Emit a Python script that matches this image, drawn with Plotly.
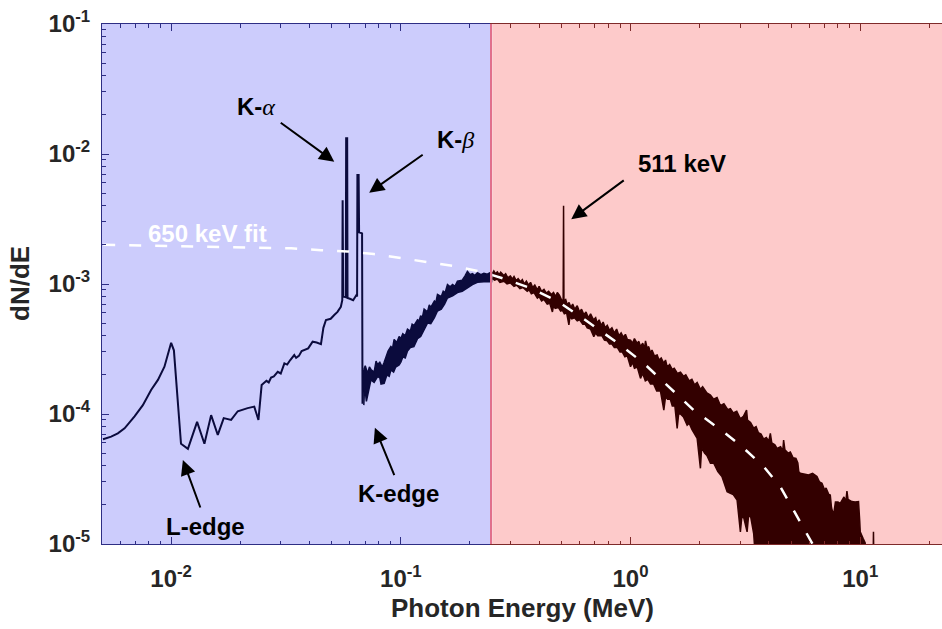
import math
import plotly.graph_objects as go

# ---------------- data ----------------
# Low-energy part of the spectrum (thin line), energies in MeV
E_low = [0.00505, 0.00548, 0.00586, 0.00627, 0.00693, 0.00753, 0.00818, 0.00876, 0.00935,
         0.00984, 0.0100, 0.01028, 0.0107, 0.01104, 0.01183, 0.01297, 0.01396, 0.01493,
         0.01596, 0.01694, 0.01824, 0.0195, 0.02153, 0.02301, 0.02399, 0.02477, 0.0260,
         0.0266, 0.02723, 0.0280, 0.02911, 0.0300, 0.03112, 0.0320, 0.0330, 0.03436,
         0.0350, 0.0360, 0.0370, 0.03802, 0.0395, 0.0413, 0.0430, 0.0449, 0.0460,
         0.0472, 0.0495, 0.0513, 0.0530, 0.0548, 0.0556,
         0.0558, 0.0561, 0.0576, 0.0578, 0.0584, 0.0586, 0.0600, 0.0620, 0.0640,
         0.0645, 0.0647, 0.0655, 0.0658, 0.0678, 0.0681, 0.0690]
dNdE_low = [6.4e-5, 6.7e-5, 7.1e-5, 7.76e-5, 9.6e-5, 1.17e-4, 1.53e-4, 1.83e-4, 2.31e-4,
            3.1e-4, 3.53e-4, 3.09e-4, 1.29e-4, 5.9e-5, 5.4e-5, 8.7e-5, 5.9e-5, 9.8e-5,
            6.9e-5, 9.3e-5, 9.0e-5, 1.05e-4, 1.11e-4, 1.14e-4, 9.0e-5, 1.67e-4, 1.80e-4,
            1.75e-4, 1.91e-4, 1.95e-4, 2.11e-4, 2.05e-4, 2.45e-4, 2.40e-4, 2.60e-4, 2.84e-4,
            2.70e-4, 2.80e-4, 3.05e-4, 3.10e-4, 3.20e-4, 3.60e-4, 3.55e-4, 3.45e-4, 4.6e-4,
            5.28e-4, 5.40e-4, 5.78e-4, 6.10e-4, 6.68e-4, 7.5e-4,
            4.4e-3, 8.0e-4, 7.9e-4, 1.32e-2, 1.32e-2, 7.8e-4, 7.7e-4, 7.5e-4, 8.2e-4,
            8.0e-4, 6.9e-3, 6.9e-3, 2.5e-3, 2.45e-3, 1.2e-4, 2.2e-4]

# Noisy part below 0.25 MeV: upper / lower envelope of the trace
E_blue_up = [0.0690, 0.0700, 0.0716, 0.0730, 0.0741, 0.0765, 0.0780, 0.0792, 0.0810, 0.0830,
             0.0846, 0.0865, 0.0880, 0.0905, 0.0920, 0.0935, 0.0960, 0.0983, 0.1000, 0.1020,
             0.1045, 0.1069, 0.1100, 0.1120, 0.1142, 0.1182, 0.1200, 0.1220, 0.1240, 0.1263,
             0.1306, 0.1330, 0.1350, 0.1400, 0.1420, 0.1444, 0.1500, 0.1530, 0.1560, 0.1596,
             0.1640, 0.1680, 0.1720, 0.1764, 0.1850, 0.1900, 0.1950, 0.2000, 0.2050, 0.2100,
             0.2155, 0.2230, 0.2300, 0.2380, 0.2462, 0.2504]
dNdE_blue_up = [2.2e-4, 2.35e-4, 2.05e-4, 2.3e-4, 2.2e-4, 2.1e-4, 2.55e-4, 2.4e-4, 2.5e-4, 2.3e-4,
                2.5e-4, 2.8e-4, 3.05e-4, 3.3e-4, 3.2e-4, 3.75e-4, 3.55e-4, 3.95e-4, 3.8e-4, 4.15e-4,
                4.0e-4, 4.5e-4, 4.35e-4, 4.9e-4, 4.8e-4, 5.3e-4, 5.2e-4, 5.7e-4, 5.5e-4, 6.4e-4,
                6.1e-4, 6.9e-4, 6.6e-4, 7.4e-4, 7.2e-4, 8.3e-4, 8.0e-4, 8.8e-4, 8.6e-4, 9.9e-4,
                9.5e-4, 9.9e-4, 9.6e-4, 1.05e-3, 1.07e-3, 1.15e-3, 1.25e-3, 1.18e-3, 1.20e-3, 1.16e-3,
                1.22e-3, 1.18e-3, 1.21e-3, 1.19e-3, 1.23e-3, 1.21e-3]
E_blue_lo = [0.0690, 0.0695, 0.0700, 0.0708, 0.0716, 0.0741, 0.0765, 0.0792, 0.0810, 0.0820,
             0.0846, 0.0870, 0.0890, 0.0905, 0.0930, 0.0950, 0.0983, 0.1000, 0.1020, 0.1045,
             0.1069, 0.1100, 0.1140, 0.1182, 0.1220, 0.1260, 0.1306, 0.1350, 0.1400, 0.1444,
             0.1500, 0.1550, 0.1596, 0.1680, 0.1764, 0.1850, 0.1950, 0.2050, 0.2155, 0.2300,
             0.2504]
dNdE_blue_lo = [1.17e-4, 1.6e-4, 1.5e-4, 1.25e-4, 1.4e-4, 1.83e-4, 1.75e-4, 1.94e-4, 1.9e-4, 1.7e-4,
                1.72e-4, 2.0e-4, 1.95e-4, 2.18e-4, 2.1e-4, 2.3e-4, 2.38e-4, 2.5e-4, 2.75e-4, 2.7e-4,
                3.05e-4, 3.25e-4, 3.3e-4, 3.8e-4, 3.95e-4, 4.4e-4, 5.0e-4, 4.95e-4, 5.5e-4, 6.2e-4,
                6.4e-4, 7.0e-4, 7.8e-4, 8.1e-4, 8.6e-4, 8.8e-4, 9.4e-4, 9.9e-4, 1.03e-3, 1.04e-3,
                1.04e-3]

# Noisy part above 0.25 MeV (incl. the 511 keV annihilation line)
E_red_up = [0.2504, 0.254, 0.258, 0.263, 0.268, 0.272, 0.281, 0.286, 0.292, 0.300,
            0.306, 0.311, 0.318, 0.324, 0.332, 0.338, 0.345, 0.352, 0.360, 0.367,
            0.375, 0.383, 0.393, 0.400, 0.410, 0.420, 0.430, 0.440, 0.452, 0.462,
            0.472, 0.480, 0.490, 0.500, 0.509, 0.511, 0.513, 0.522, 0.531, 0.540,
            0.550, 0.560, 0.572, 0.586, 0.600, 0.612, 0.627, 0.640, 0.655, 0.670,
            0.690, 0.705, 0.716, 0.730, 0.745, 0.760, 0.775, 0.792, 0.810, 0.830,
            0.850, 0.870, 0.890, 0.910, 0.930, 0.950, 0.968, 1.000, 1.020, 1.040,
            1.069, 1.087, 1.105, 1.130, 1.150, 1.162, 1.182, 1.200, 1.222, 1.240,
            1.270, 1.306, 1.330, 1.360, 1.396, 1.420, 1.444, 1.480, 1.520, 1.550,
            1.600, 1.650, 1.700, 1.740, 1.800, 1.850, 1.900, 1.950, 2.015, 2.060,
            2.150, 2.228, 2.300, 2.380, 2.462, 2.550, 2.650, 2.721, 2.800, 2.900,
            3.008, 3.100, 3.200, 3.230, 3.330, 3.437, 3.520, 3.600, 3.700, 3.798,
            3.900, 4.000, 4.062, 4.120, 4.250, 4.344, 4.500, 4.600, 4.640, 4.700,
            4.850, 4.963, 5.100, 5.250, 5.350, 5.400, 5.484, 5.700, 5.960, 6.200,
            6.481, 6.650, 6.815, 7.000, 7.100, 7.300, 7.407, 7.500, 7.655, 7.800,
            8.000, 8.185, 8.500, 8.650, 8.753, 8.850, 9.203, 9.500, 9.831, 9.950,
            10.0, 10.3, 10.51, 10.60, 11.35, 11.42, 11.50]
dNdE_red_up = [1.21e-3, 1.26e-3, 1.20e-3, 1.24e-3, 1.18e-3, 1.23e-3, 1.16e-3, 1.20e-3, 1.12e-3, 1.15e-3,
               1.09e-3, 1.14e-3, 1.06e-3, 1.10e-3, 1.04e-3, 1.08e-3, 1.00e-3, 1.05e-3, 9.8e-4, 1.03e-3,
               9.4e-4, 9.8e-4, 9.0e-4, 9.6e-4, 8.8e-4, 9.1e-4, 8.5e-4, 8.8e-4, 8.3e-4, 8.6e-4,
               8.0e-4, 8.6e-4, 8.2e-4, 7.6e-4, 7.4e-4, 4.0e-3, 7.4e-4, 7.6e-4, 6.9e-4, 7.2e-4,
               6.6e-4, 7.0e-4, 6.4e-4, 6.8e-4, 6.1e-4, 6.4e-4, 5.8e-4, 6.1e-4, 5.5e-4, 5.9e-4,
               5.3e-4, 5.5e-4, 5.0e-4, 5.3e-4, 4.8e-4, 5.1e-4, 4.6e-4, 4.8e-4, 4.4e-4, 4.6e-4,
               4.2e-4, 4.5e-4, 4.0e-4, 4.2e-4, 3.9e-4, 4.1e-4, 3.75e-4, 3.7e-4, 3.5e-4, 3.8e-4,
               3.5e-4, 3.62e-4, 3.3e-4, 3.5e-4, 3.2e-4, 3.65e-4, 3.2e-4, 3.3e-4, 2.95e-4, 3.1e-4,
               2.8e-4, 2.85e-4, 2.6e-4, 2.7e-4, 2.45e-4, 2.6e-4, 2.3e-4, 2.4e-4, 2.2e-4, 2.25e-4,
               2.05e-4, 2.1e-4, 1.95e-4, 2.0e-4, 1.8e-4, 1.85e-4, 1.68e-4, 1.75e-4, 1.55e-4, 1.62e-4,
               1.45e-4, 1.40e-4, 1.30e-4, 1.34e-4, 1.16e-4, 1.20e-4, 1.08e-4, 1.10e-4, 1.02e-4, 1.05e-4,
               9.2e-5, 9.6e-5, 1.07e-4, 9.0e-5, 8.6e-5, 7.8e-5, 8.0e-5, 7.2e-5, 7.0e-5, 6.4e-5,
               6.6e-5, 6.2e-5, 7.1e-5, 6.0e-5, 5.8e-5, 5.44e-5, 5.6e-5, 5.2e-5, 6.3e-5, 5.3e-5,
               5.0e-5, 5.1e-5, 4.6e-5, 4.56e-5, 4.2e-5, 3.6e-5, 3.5e-5, 3.45e-5, 3.4e-5, 3.5e-5,
               3.3e-5, 3.0e-5, 2.93e-5, 2.6e-5, 2.7e-5, 2.4e-5, 2.38e-5, 1.9e-5, 1.67e-5, 2.1e-5,
               2.1e-5, 2.05e-5, 2.3e-5, 2.1e-5, 2.55e-5, 2.2e-5, 2.12e-5, 2.1e-5, 2.12e-5, 1.5e-5,
               1.24e-5, 1.1e-5, 1.02e-5, 5e-6, 5e-6, 1.24e-5, 5e-6]
E_red_lo = [0.2504, 0.256, 0.263, 0.270, 0.281, 0.290, 0.300, 0.311, 0.320, 0.330,
            0.340, 0.355, 0.362, 0.370, 0.380, 0.393, 0.400, 0.410, 0.420, 0.434,
            0.445, 0.457, 0.462, 0.470, 0.485, 0.496, 0.505, 0.515, 0.527, 0.539,
            0.545, 0.555, 0.570, 0.586, 0.600, 0.620, 0.635, 0.648, 0.670, 0.692,
            0.705, 0.720, 0.750, 0.770, 0.792, 0.810, 0.830, 0.850, 0.876, 0.900,
            0.920, 0.945, 0.968, 1.000, 1.020, 1.040, 1.070, 1.105, 1.130, 1.160,
            1.190, 1.222, 1.260, 1.300, 1.350, 1.396, 1.420, 1.450, 1.490, 1.520,
            1.560, 1.596, 1.620, 1.650, 1.700, 1.764, 1.800, 1.850, 1.900, 1.950,
            2.015, 2.040, 2.100, 2.150, 2.228, 2.300, 2.400, 2.500, 2.633, 2.721,
            2.800, 2.910, 3.008, 3.050, 3.110, 3.217, 3.260, 3.325, 3.437, 3.556,
            11.50]
dNdE_red_lo = [1.10e-3, 1.07e-3, 1.09e-3, 1.03e-3, 1.05e-3, 1.00e-3, 1.02e-3, 9.6e-4, 9.8e-4, 9.2e-4,
               9.4e-4, 8.8e-4, 9.0e-4, 8.4e-4, 8.6e-4, 7.8e-4, 8.0e-4, 7.4e-4, 7.6e-4, 7.0e-4,
               7.1e-4, 6.1e-4, 6.8e-4, 6.5e-4, 6.6e-4, 6.2e-4, 6.3e-4, 5.9e-4, 6.0e-4, 4.84e-4,
               5.6e-4, 5.4e-4, 5.5e-4, 5.2e-4, 5.3e-4, 4.9e-4, 4.9e-4, 4.6e-4, 4.5e-4, 3.94e-4,
               4.2e-4, 4.0e-4, 4.0e-4, 3.7e-4, 3.65e-4, 3.45e-4, 3.45e-4, 3.25e-4, 3.25e-4, 3.0e-4,
               3.0e-4, 2.75e-4, 2.8e-4, 2.31e-4, 2.5e-4, 2.25e-4, 2.3e-4, 1.88e-4, 2.05e-4, 1.8e-4,
               1.85e-4, 1.70e-4, 1.7e-4, 1.5e-4, 1.5e-4, 1.07e-4, 1.35e-4, 1.3e-4, 1.3e-4, 1.15e-4,
               1.15e-4, 7.76e-5, 1.0e-4, 1.0e-4, 9.5e-5, 8.2e-5, 8.5e-5, 7.6e-5, 7.0e-5, 6.5e-5,
               3.82e-5, 5.5e-5, 5.0e-5, 4.8e-5, 4.18e-5, 4.2e-5, 3.6e-5, 3.3e-5, 2.52e-5, 2.45e-5,
               2.4e-5, 2.18e-5, 1.24e-5, 1.6e-5, 1.6e-5, 1.24e-5, 1.6e-5, 1.67e-5, 1.2e-5, 5e-6,
               5e-6]

# 650 keV bremsstrahlung fit
E_fit = [0.00506, 0.0333, 0.0449, 0.0586, 0.0763, 0.100, 0.1306, 0.168, 0.223, 0.277,
         0.367, 0.480, 0.606, 0.716, 0.905, 1.143, 1.445, 1.885, 2.46, 3.01, 3.80,
         4.49, 5.13, 5.96, 6.30]
dNdE_fit = [2.0e-3, 1.88e-3, 1.82e-3, 1.78e-3, 1.70e-3, 1.58e-3, 1.48e-3, 1.38e-3, 1.245e-3, 1.107e-3,
            9.3e-4, 7.4e-4, 5.6e-4, 4.57e-4, 3.39e-4, 2.45e-4, 1.66e-4, 1.07e-4, 7.6e-5, 5.75e-5, 3.94e-5,
            2.75e-5, 1.82e-5, 1.15e-5, 9.5e-6]

# tick labels
x_ticks_low = [0.01, 0.1]
x_ticks_high = [1, 10]
y_ticks = [1e-5, 1e-4, 1e-3, 1e-2, 1e-1]


def pow_label(v):
    return "10<sup>%d</sup>" % round(math.log10(v))


# ---------------- styling ----------------
X_MIN, X_SPLIT, X_MAX = 0.005, 0.25, 22.7
Y_MIN, Y_MAX = 1e-5, 1e-1
NAVY = "#0b0b3d"
MAROON = "#330000"
BLUE_BG = "rgb(204,204,252)"
RED_BG = "rgb(253,202,202)"
BLUE_AX = "#2e2e84"
RED_AX = "#7e2a2a"
BOUND = "#e0708c"
TXT = "#262626"
FONT = "Liberation Sans, Arial, sans-serif"

lg = math.log10
split = (lg(X_SPLIT) - lg(X_MIN)) / (lg(X_MAX) - lg(X_MIN))


def minor_vals(lo_exp, hi_exp):
    return [m * 10.0 ** e for e in range(lo_exp, hi_exp) for m in range(2, 10)]


fig = go.Figure()
fig.add_trace(go.Scatter(x=E_low, y=dNdE_low, mode="lines",
                         line=dict(color=NAVY, width=2), xaxis="x", yaxis="y"))
fig.add_trace(go.Scatter(x=E_blue_up + E_blue_lo[::-1], y=dNdE_blue_up + dNdE_blue_lo[::-1],
                         mode="lines", fill="toself", fillcolor=NAVY,
                         line=dict(color=NAVY, width=1.5), xaxis="x", yaxis="y"))
fig.add_trace(go.Scatter(x=E_red_up + E_red_lo[::-1], y=dNdE_red_up + dNdE_red_lo[::-1],
                         mode="lines", fill="toself", fillcolor=MAROON,
                         line=dict(color=MAROON, width=1.5), xaxis="x2", yaxis="y2"))
for xa, ya in (("x", "y"), ("x2", "y2")):
    fig.add_trace(go.Scatter(x=E_fit, y=dNdE_fit, mode="lines",
                             line=dict(color="white", width=2.5, dash="12px,14px"),
                             xaxis=xa, yaxis=ya))

axis_common = dict(type="log", showgrid=False, zeroline=False, showline=True,
                   ticks="inside", ticklen=7, tickwidth=1,
                   tickfont=dict(family=FONT, size=24, color=TXT, weight="bold"))

fig.update_layout(
    width=942, height=629,
    margin=dict(l=102, r=0, t=24, b=85),
    paper_bgcolor="white", plot_bgcolor="rgba(0,0,0,0)",
    showlegend=False,
    xaxis=dict(axis_common, domain=[0, split], range=[lg(X_MIN), lg(X_SPLIT)],
               anchor="y", linecolor=BLUE_AX, tickcolor=BLUE_AX, mirror="allticks",
               tickmode="array", tickvals=x_ticks_low,
               ticktext=[pow_label(v) for v in x_ticks_low], ticklabelstandoff=13,
               minor=dict(ticks="inside", ticklen=3.5, tickcolor=BLUE_AX,
                          tickmode="array", tickvals=minor_vals(-3, 0))),
    xaxis2=dict(axis_common, domain=[split, 1], range=[lg(X_SPLIT), lg(X_MAX)],
                anchor="y2", linecolor=RED_AX, tickcolor=RED_AX, mirror="allticks",
                tickmode="array", tickvals=x_ticks_high,
                ticktext=[pow_label(v) for v in x_ticks_high], ticklabelstandoff=13,
                minor=dict(ticks="inside", ticklen=3.5, tickcolor=RED_AX,
                           tickmode="array", tickvals=minor_vals(-1, 2))),
    yaxis=dict(axis_common, domain=[0, 1], range=[lg(Y_MIN), lg(Y_MAX)], anchor="x",
               linecolor=BLUE_AX, tickcolor=BLUE_AX,
               tickmode="array", tickvals=y_ticks, ticktext=[pow_label(v) for v in y_ticks],
               ticklabelstandoff=6,
               minor=dict(ticks="inside", ticklen=3.5, tickcolor=BLUE_AX,
                          tickmode="array", tickvals=minor_vals(-5, -1))),
    yaxis2=dict(type="log", domain=[0, 1], range=[lg(Y_MIN), lg(Y_MAX)], anchor="x2",
                matches="y", showgrid=False, zeroline=False, showticklabels=False,
                ticks="", showline=True, linecolor=BOUND, linewidth=2),
)

# coloured backgrounds of the two energy ranges
fig.add_shape(type="rect", xref="x domain", yref="y domain", x0=0, x1=1, y0=0, y1=1,
              fillcolor=BLUE_BG, line_width=0, layer="below")
fig.add_shape(type="rect", xref="x2 domain", yref="y2 domain", x0=0, x1=1, y0=0, y1=1,
              fillcolor=RED_BG, line_width=0, layer="below")

# text labels (position given in data units)
labels = [
    ('<b>K-</b><span style="font-family:Liberation Serif"><i>α</i></span>', "x", "y", 0.02344, 0.0230, "black"),
    ('<b>K-</b><span style="font-family:Liberation Serif"><i>β</i></span>', "x", "y", 0.1734, 0.01303, "black"),
    ("<b>511 keV</b>", "x2", "y2", 1.678, 8.38e-3, "black"),
    ("<b>L-edge</b>", "x", "y", 0.01406, 1.374e-5, "black"),
    ("<b>K-edge</b>", "x", "y", 0.0975, 2.466e-5, "black"),
    ("<b>650 keV fit</b>", "x", "y", 0.01435, 2.466e-3, "white"),
]
for text, xr, yr, xv, yv, col in labels:
    fig.add_annotation(text=text, xref=xr, yref=yr, x=lg(xv), y=lg(yv),
                       showarrow=False, xanchor="center", yanchor="middle",
                       font=dict(family=FONT, size=24, color=col))

# arrows: head in data units, tail offset in pixels
arrows = [
    ("x", "y", 0.0513, 8.73e-3, -55, -40),
    ("x", "y", 0.0728, 5.04e-3, 55, -39),
    ("x2", "y2", 0.552, 3.15e-3, 54, -40),
    ("x", "y", 0.01125, 4.43e-5, 18, 49),
    ("x", "y", 0.0771, 7.85e-5, 20, 49),
]
for xr, yr, xv, yv, ax, ay in arrows:
    fig.add_annotation(text="", xref=xr, yref=yr, x=lg(xv), y=lg(yv), ax=ax, ay=ay,
                       showarrow=True, arrowhead=2, arrowsize=1.5, arrowwidth=2,
                       arrowcolor="black")

# axis titles
fig.add_annotation(text="<b>Photon Energy (MeV)</b>", xref="paper", yref="paper",
                   x=0.5, y=0, yshift=-64, showarrow=False, xanchor="center",
                   yanchor="middle", font=dict(family=FONT, size=26, color=TXT))
fig.add_annotation(text="<b>dN/dE</b>", xref="paper", yref="paper", x=0, y=0.5,
                   xshift=-82, textangle=-90, showarrow=False, xanchor="center",
                   yanchor="middle", font=dict(family=FONT, size=26, color=TXT))

fig.write_html("out.html")
